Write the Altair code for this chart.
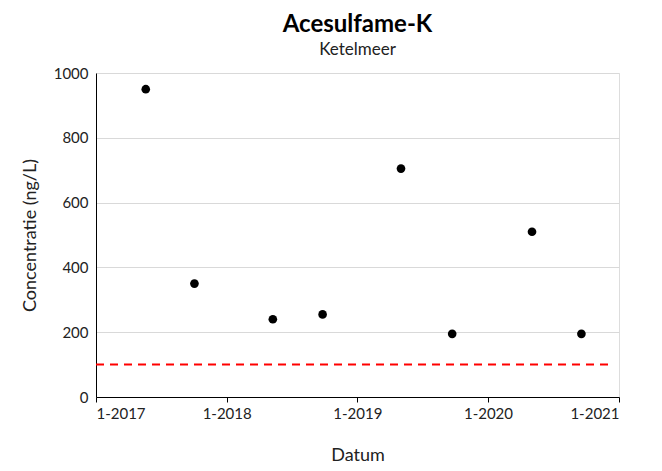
import altair as alt
import pandas as pd

dates = ["2017-05-20", "2017-10-03", "2018-05-10", "2018-09-26",
         "2019-05-03", "2019-09-23", "2020-05-03", "2020-09-18"]
values = [950, 350, 240, 255, 705, 195, 510, 195]
limit_start = ["2017-01-01"]
limit_end = ["2020-12-13"]
limit_value = [100]

df = pd.DataFrame({"datum": pd.to_datetime(dates), "conc": values})
lim = pd.DataFrame({"start": pd.to_datetime(limit_start), "end": pd.to_datetime(limit_end), "v": limit_value})

FONT = "Lato"

xscale = alt.Scale(domain=[pd.Timestamp("2017-01-01").isoformat(), pd.Timestamp("2021-01-01").isoformat()], nice=False)
yscale = alt.Scale(domain=[0, 1000], nice=False)

points = alt.Chart(df).mark_circle(size=75, color="black", opacity=1).encode(
    x=alt.X("datum:T", scale=xscale, title="Datum",
            axis=alt.Axis(values=[pd.Timestamp(f"{y}-01-01").isoformat() for y in range(2017, 2022)],
                          format="%-m-%Y", grid=False, tickSize=5, tickColor="black",
                          domainColor="black", labelFontSize=15, titleFontSize=18,
                          labelColor="#222", titleColor="#222", titlePadding=25, labelPadding=4,
                          labelFont=FONT, titleFont=FONT, titleFontWeight="normal")),
    y=alt.Y("conc:Q", scale=yscale, title="Concentratie (ng/L)",
            axis=alt.Axis(values=[0, 200, 400, 600, 800, 1000], grid=True, gridColor="#d9d9d9",
                          format="d", ticks=False, domainColor="black", labelFontSize=15, titleFontSize=18,
                          labelColor="#222", titleColor="#222", titlePadding=14, labelPadding=8,
                          labelFont=FONT, titleFont=FONT, titleFontWeight="normal")),
)

line = alt.Chart(lim).mark_rule(color="#ff0000", strokeDash=[8, 6], strokeWidth=2).encode(
    x=alt.X("start:T", scale=xscale),
    x2="end:T",
    y=alt.Y("v:Q", scale=yscale),
)

chart = alt.layer(line, points).properties(
    width=523, height=324,
    padding={"left": 13, "top": 5, "right": 5, "bottom": 5},
    title=alt.TitleParams("Acesulfame-K", subtitle="Ketelmeer", font=FONT, fontSize=24,
                          fontWeight="bold", color="black", subtitleFont=FONT,
                          subtitleFontSize=17, subtitleColor="#222", anchor="middle",
                          subtitlePadding=5, offset=8),
).configure_view(stroke="black", strokeWidth=1).configure(background="white")

chart.save("out.html", embed_options={"renderer": "svg", "actions": False})
